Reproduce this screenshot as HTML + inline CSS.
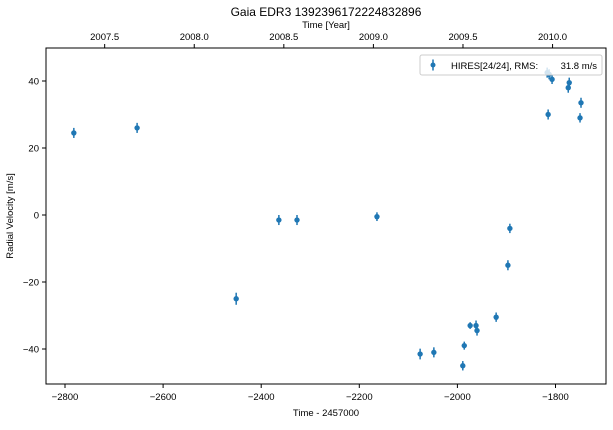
<!DOCTYPE html>
<html><head><meta charset="utf-8"><style>
body{margin:0;background:#fff;}
svg{font-family:"Liberation Sans",Arial,sans-serif;}
</style></head><body>
<svg id="chart" width="613" height="425" viewBox="0 0 613 425">
<rect x="0" y="0" width="613" height="425" fill="#fff"/>
<text x="326" y="16" text-anchor="middle" font-size="12">Gaia EDR3 1392396172224832896</text>
<text x="326" y="28" text-anchor="middle" font-size="9.5">Time [Year]</text>
<text x="326" y="416" text-anchor="middle" font-size="9.5">Time - 2457000</text>
<text x="13" y="216" text-anchor="middle" font-size="9.5" transform="rotate(-90 13 216)">Radial Velocity [m/s]</text>
<g id="ticks"></g>
<g id="marks"></g>
<rect x="46" y="48" width="560" height="336" fill="none" stroke="#000" stroke-width="1"/>
<g>
<rect x="420" y="55" width="182" height="20" rx="2" fill="#fff" fill-opacity="0.8" stroke="#ccc"/>
<line x1="433" y1="59.5" x2="433" y2="70.5" stroke="#1f77b4" stroke-width="1.5"/>
<circle cx="433" cy="65" r="2.5" fill="#1f77b4"/>
<text x="451" y="69" font-size="9.5">HIRES[24/24], RMS:</text>
<text x="597" y="69" font-size="9.5" text-anchor="end">31.8 m/s</text>
</g>
</svg>
<script>
const times=[-2782,-2653,-2451,-2364,-2327,-2164,-2076,-2048,-1989,-1986,-1974,-1962,-1960,-1921,-1897,-1893,-1815,-1817,-1813,-1807,-1774,-1772,-1750,-1748];
const rvs=[24.5,26,-25,-1.5,-1.5,-0.5,-41.5,-41,-45,-39,-33,-33,-34.5,-30.5,-15,-4,30,42.5,42,40.5,38,39.5,29,33.5];
const errs=[1.5,1.5,1.8,1.5,1.5,1.3,1.6,1.5,1.4,1.2,1.0,1.5,1.5,1.4,1.5,1.4,1.5,1.5,1.5,1.4,1.5,1.5,1.4,1.5];
const xTicks=[-2800,-2600,-2400,-2200,-2000,-1800];
const yTicks=[-40,-20,0,20,40];
const yearTicks=[2007.5,2008.0,2008.5,2009.0,2009.5,2010.0];
const X=v=>65+(v+2800)*0.4905;
const Y=v=>215-v*3.35;
const YR=y=>X(-1806+(y-2010)*365.25);
const ns="http://www.w3.org/2000/svg";
function mk(t,a,p){const e=document.createElementNS(ns,t);for(const k in a)e.setAttribute(k,a[k]);p.appendChild(e);return e;}
const tg=document.getElementById('ticks'),mg=document.getElementById('marks');
xTicks.forEach(v=>{const x=X(v);
 const l=mk('line',{x1:x,x2:x,y1:384,y2:388,stroke:'#000'},tg);
 
 
 const t=mk('text',{x:x,y:400,'text-anchor':'middle','font-size':'9.5'},tg);t.textContent=String(v).replace('-','\u2212');
 
 });
yTicks.forEach(v=>{const y=Y(v);
 const l=mk('line',{x1:42,x2:46,y1:y,y2:y,stroke:'#000'},tg);
 
 
 const t=mk('text',{x:39,y:y+3.5,'text-anchor':'end','font-size':'9.5'},tg);t.textContent=String(v).replace('-','\u2212');
 
 });
yearTicks.forEach(v=>{const x=YR(v);
 const l=mk('line',{x1:x,x2:x,y1:44,y2:48,stroke:'#000'},tg);
 
 
 const t=mk('text',{x:x,y:40,'text-anchor':'middle','font-size':'9.5'},tg);t.textContent=v.toFixed(1);
 
 });
times.forEach((tv,i)=>{const x=X(tv),y=Y(rvs[i]);
 const g=mk('g',{},mg);
 
 
 mk('line',{x1:x,x2:x,y1:Y(rvs[i]+errs[i]),y2:Y(rvs[i]-errs[i]),stroke:'#1f77b4','stroke-width':1.5},g);
 mk('circle',{cx:x,cy:y,r:2.7,fill:'#1f77b4'},g);});
</script>
</body></html>
